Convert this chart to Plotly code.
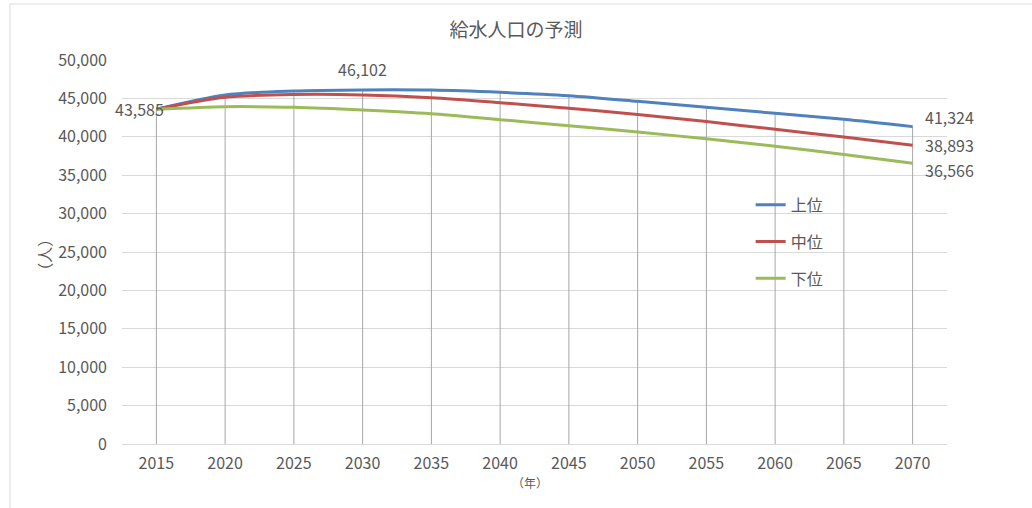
import plotly.graph_objects as go

# 給水人口の予測（上位・中位・下位）
years = ["2015", "2020", "2025", "2030", "2035", "2040",
         "2045", "2050", "2055", "2060", "2065", "2070"]
upper = [43585, 45440, 45960, 46102, 46080, 45790,
         45350, 44620, 43840, 43060, 42280, 41324]
middle = [43585, 45140, 45500, 45450, 45090, 44440,
          43710, 42900, 41980, 40980, 39960, 38893]
lower = [43585, 43920, 43840, 43490, 43000, 42230,
         41450, 40620, 39740, 38780, 37700, 36566]
y_ticks = list(range(0, 50001, 5000))

TEXT = "#595959"
FONT = "Noto Sans CJK JP"

fig = go.Figure()

# drop lines from the highest series down to the axis
drop_x, drop_y = [], []
for i, yr in enumerate(years):
    top = max(upper[i], middle[i], lower[i])
    drop_x += [yr, yr, None]
    drop_y += [0, top, None]
fig.add_trace(go.Scatter(x=drop_x, y=drop_y, mode="lines",
                         line=dict(color="#a6a6a6", width=1),
                         hoverinfo="skip", showlegend=False))

series = [("上位", upper, "#4F81BD"),
          ("中位", middle, "#C0504D"),
          ("下位", lower, "#9BBB59")]
for name, vals, color in series:
    fig.add_trace(go.Scatter(x=years, y=vals, name=name, mode="lines",
                             line=dict(color=color, width=3, shape="spline",
                                       smoothing=0.8),
                             legendgroup=name))

# data labels (category axis: position by category index)
def label(i, y, xanchor, xshift=0, yshift=0):
    fig.add_annotation(x=i, y=y, text=f"{y:,}", showarrow=False,
                       xanchor=xanchor, yanchor="middle",
                       xshift=xshift, yshift=yshift,
                       font=dict(family=FONT, size=16, color=TEXT))

last = len(years) - 1
label(0, upper[0], "right", xshift=10)
label(3, upper[3], "center", yshift=21)
label(last, upper[last], "left", xshift=10, yshift=10)
label(last, middle[last], "left", xshift=10, yshift=0)
label(last, lower[last], "left", xshift=10, yshift=-7)

# axis titles
fig.add_annotation(x=-0.112, y=0.492, xref="paper", yref="paper",
                   text="（人）", textangle=-90, showarrow=False,
                   font=dict(family=FONT, size=16, color=TEXT))
fig.add_annotation(x=0.4945, y=-0.128, xref="paper", yref="paper",
                   text="（年）", showarrow=False,
                   font=dict(family=FONT, size=12, color=TEXT))

# chart area border
fig.add_shape(type="line", xref="paper", yref="paper",
              x0=-0.1358, x1=1.2, y0=1.1458, y1=1.1458,
              line=dict(color="#d9d9d9", width=1))
fig.add_shape(type="line", xref="paper", yref="paper",
              x0=-0.1358, x1=-0.1358, y0=-0.2, y1=1.1458,
              line=dict(color="#d9d9d9", width=1))

fig.update_layout(
    width=1032, height=508,
    margin=dict(l=122, r=85, t=60, b=64),
    paper_bgcolor="white", plot_bgcolor="white",
    font=dict(family=FONT, size=16, color=TEXT),
    title=dict(text="給水人口の予測", x=0.5, xanchor="center",
               y=0.94, yanchor="middle",
               font=dict(family=FONT, size=19, color=TEXT)),
    legend=dict(x=0.762, y=0.667, xanchor="left", yanchor="top",
                bgcolor="rgba(0,0,0,0)", tracegroupgap=13,
                traceorder="grouped",
                font=dict(family=FONT, size=16, color=TEXT)),
    showlegend=True,
)
fig.update_xaxes(type="category", range=[-0.5, 11.5], showgrid=False,
                 showline=False, zeroline=False, ticks="",
                 tickfont=dict(family=FONT, size=16, color=TEXT),
                 ticklabelstandoff=8)
fig.update_yaxes(range=[0, 50000], tickvals=y_ticks,
                 ticktext=[f"{v:,}" for v in y_ticks],
                 showgrid=True, gridcolor="#d9d9d9", gridwidth=1,
                 zeroline=True, zerolinecolor="#d9d9d9", zerolinewidth=1,
                 showline=False, ticks="",
                 tickfont=dict(family=FONT, size=16, color=TEXT),
                 ticklabelstandoff=14)

fig.write_html("out.html")
